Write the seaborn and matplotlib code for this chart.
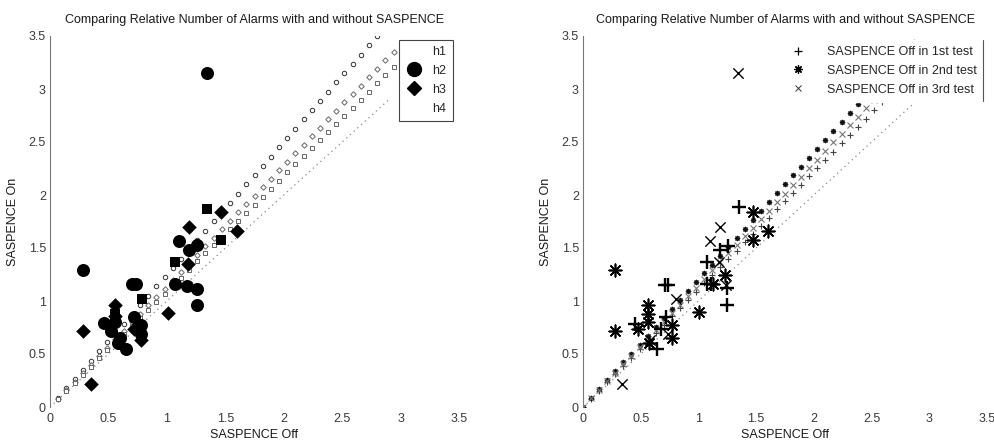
import numpy as np
import matplotlib
matplotlib.use("Agg")
import matplotlib.pyplot as plt
import seaborn as sns
from matplotlib.lines import Line2D

# ---------------- data ----------------
title_text = "Comparing Relative Number of Alarms with and without SASPENCE"
x_label = "SASPENCE Off"
y_label = "SASPENCE On"
tick_values = [0, 0.5, 1, 1.5, 2, 2.5, 3, 3.5]
tick_labels = ["0", "0.5", "1", "1.5", "2", "2.5", "3", "3.5"]

# left panel groups
left_circle_x = [1.34, 0.28, 1.10, 1.19, 1.26, 1.26, 1.26, 0.70, 0.74, 1.07, 1.17,
                 0.46, 0.65, 0.58, 0.60, 0.72, 0.78, 0.78, 0.52, 0.56]
left_circle_y = [3.15, 1.29, 1.57, 1.48, 1.53, 1.11, 0.96, 1.16, 1.16, 1.16, 1.14,
                 0.79, 0.55, 0.60, 0.65, 0.85, 0.77, 0.69, 0.72, 0.80]
left_diamond_x = [1.46, 1.60, 1.19, 1.01, 0.56, 0.28, 0.35, 0.78, 0.56, 1.18, 0.72]
left_diamond_y = [1.84, 1.66, 1.70, 0.89, 0.96, 0.72, 0.22, 0.63, 0.86, 1.35, 0.74]
left_square_x = [1.46, 0.79, 1.07, 1.34, 0.56]
left_square_y = [1.58, 1.02, 1.37, 1.87, 0.88]
left_legend_labels = ["h1", "h2", "h3", "h4"]

# right panel tests
test1_x = [0.45, 0.64, 0.71, 0.74, 0.72, 0.68, 1.07, 1.07, 1.11, 1.19, 1.26, 1.25, 1.25, 1.35]
test1_y = [0.78, 0.55, 1.15, 1.15, 0.85, 0.74, 1.37, 1.16, 1.16, 1.48, 1.52, 1.12, 0.96, 1.89]
test2_x = [0.28, 0.28, 0.48, 0.56, 0.56, 0.56, 0.57, 0.77, 0.77, 1.005, 1.13, 1.23, 1.47, 1.47, 1.60]
test2_y = [1.29, 0.72, 0.74, 0.96, 0.88, 0.80, 0.60, 0.77, 0.65, 0.90, 1.16, 1.25, 1.84, 1.58, 1.66]
test3_x = [1.34, 0.34, 1.19, 1.10, 0.81, 0.58, 1.18, 1.24, 0.74]
test3_y = [3.15, 0.22, 1.70, 1.57, 1.02, 0.63, 1.37, 1.15, 0.69]
right_legend_labels = ["SASPENCE Off in 1st test", "SASPENCE Off in 2nd test",
                       "SASPENCE Off in 3rd test"]

# fitted reference lines (slope, last x)
left_fit_slopes = [1.25, 1.14, 1.09]
left_fit_ends = [2.80, 3.05, 3.20]
right_fit_slopes = [1.11, 1.20, 1.15]
right_fit_ends = [3.10, 2.88, 3.00]
fit_step = 0.07
identity_end = 2.9

# ---------------- style ----------------
sns.set_theme(style="white")
plt.rcParams["font.family"] = ["Liberation Sans", "DejaVu Sans"]
plt.rcParams["font.size"] = 9

fig = plt.figure(figsize=(9.94, 4.45), dpi=100)
ax_l = fig.add_axes([50 / 994, 1 - 407 / 445, 409 / 994, 371 / 445])
ax_r = fig.add_axes([583 / 994, 1 - 407 / 445, 404 / 994, 371 / 445])

text_col = "#1a1a1a"


def style_axes(ax):
    ax.set_xlim(0, 3.5)
    ax.set_ylim(0, 3.5)
    ax.set_xticks(tick_values)
    ax.set_xticklabels(tick_labels)
    ax.set_yticks(tick_values)
    ax.set_yticklabels(tick_labels)
    for s in ["top", "right", "bottom"]:
        ax.spines[s].set_visible(False)
    ax.spines["left"].set_color("#777777")
    ax.spines["left"].set_linewidth(0.8)
    ax.tick_params(axis="both", direction="in", length=3, width=0.6,
                   colors="#999999", labelcolor="#3a3a3a", labelsize=9)
    ax.tick_params(axis="x", pad=4.5)
    ax.tick_params(axis="y", pad=3)
    ax.set_xlabel(x_label, fontsize=9, color=text_col, labelpad=3)
    ax.set_ylabel(y_label, fontsize=9, color=text_col, labelpad=7)
    ax.set_title(title_text, fontsize=9, color=text_col, pad=9)
    ax.set_facecolor("white")


# ---------------- left panel ----------------
ax = ax_l
for slope, end, mk in zip(left_fit_slopes, left_fit_ends, ["o", "D", "s"]):
    fx = np.arange(fit_step, end + 1e-9, fit_step)
    ax.plot(fx, slope * fx, linestyle="none", marker=mk, markersize=3.2 if mk == "o" else 2.8,
            markerfacecolor="white", markeredgecolor="#333333" if mk == "o" else "#666666",
            markeredgewidth=0.7, zorder=2)
ax.plot([0, identity_end], [0, identity_end], linestyle=(0, (1, 3)), color="#888888",
        linewidth=0.9, zorder=1)

sns.scatterplot(x=left_circle_x, y=left_circle_y, marker="o", s=88, color="black",
                edgecolor="black", linewidth=0, ax=ax, zorder=4)
sns.scatterplot(x=left_diamond_x, y=left_diamond_y, marker="D", s=55, color="black",
                edgecolor="black", linewidth=0, ax=ax, zorder=4)
sns.scatterplot(x=left_square_x, y=left_square_y, marker="s", s=52, color="black",
                edgecolor="black", linewidth=0, ax=ax, zorder=4)

handles_l = [
    Line2D([], [], linestyle="none", marker=None),
    Line2D([], [], linestyle="none", marker="o", color="black", markersize=10),
    Line2D([], [], linestyle="none", marker="D", color="black", markersize=7.5),
    Line2D([], [], linestyle="none", marker=None),
]
leg = ax.legend(handles_l, left_legend_labels, loc="upper right",
                bbox_to_anchor=(0.985, 0.99), frameon=True, fancybox=False,
                fontsize=9, handlelength=1.4, handletextpad=0.8, labelspacing=0.55,
                borderpad=0.5, borderaxespad=0.0)
leg.get_frame().set_edgecolor("#444444")
leg.get_frame().set_linewidth(0.8)
leg.get_frame().set_facecolor("white")
leg.get_frame().set_alpha(1)
leg.set_zorder(10)
style_axes(ax)

# ---------------- right panel ----------------
ax = ax_r
fit_markers_r = ["+", (8, 2, 0), "x"]
fit_colors_r = ["#444444", "#111111", "#777777"]
for slope, end, mk, c in zip(right_fit_slopes, right_fit_ends, fit_markers_r, fit_colors_r):
    fx = np.arange(0.0, end + 1e-9, fit_step)
    ax.plot(fx, slope * fx, linestyle="none", marker=mk, markersize=3.8,
            color=c, markeredgewidth=0.8, zorder=2)
ax.plot([0, identity_end], [0, identity_end], linestyle=(0, (1, 3)), color="#888888",
        linewidth=0.9, zorder=1)

sns.scatterplot(x=test1_x, y=test1_y, marker="+", s=105, color="black",
                linewidth=1.7, ax=ax, zorder=4)
sns.scatterplot(x=test2_x, y=test2_y, marker=(8, 2, 0), s=80, color="black",
                linewidth=1.2, ax=ax, zorder=4)
sns.scatterplot(x=test3_x, y=test3_y, marker="x", s=55, color="black",
                linewidth=1.0, ax=ax, zorder=4)

handles_r = [
    Line2D([], [], linestyle="none", marker="+", color="black", markersize=6, markeredgewidth=0.9),
    Line2D([], [], linestyle="none", marker=(8, 2, 0), color="black", markersize=6, markeredgewidth=0.9),
    Line2D([], [], linestyle="none", marker="x", color="#333333", markersize=4, markeredgewidth=0.7),
]
leg_r = ax.legend(handles_r, right_legend_labels, loc="upper right",
                  bbox_to_anchor=(0.99, 0.99), frameon=True, fancybox=False,
                  fontsize=9, handlelength=1.4, handletextpad=1.6, labelspacing=0.55,
                  borderpad=0.5, borderaxespad=0.0)
leg_r.get_frame().set_edgecolor("white")
leg_r.get_frame().set_facecolor("white")
leg_r.get_frame().set_alpha(1)
leg_r.set_zorder(10)
ax.plot([0.99, 0.99], [0.825, 0.99], transform=ax.transAxes, color="#555555",
        linewidth=0.8, zorder=11, clip_on=False)
style_axes(ax)

fig.savefig("out.png", dpi=100, facecolor="white")
